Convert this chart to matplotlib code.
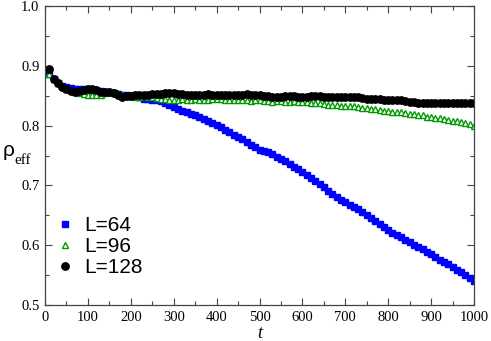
import numpy as np
import matplotlib
matplotlib.use('Agg')
import matplotlib.pyplot as plt

# time steps (every 10 up to 1000)
t = np.arange(10, 1001, 10)

rho_L64 = [
    0.887, 0.878, 0.872, 0.867, 0.864, 0.863, 0.862, 0.862, 0.861, 0.861,
    0.860, 0.859, 0.858, 0.857, 0.856, 0.855, 0.853, 0.852, 0.851, 0.850,
    0.849, 0.847, 0.845, 0.844, 0.843, 0.842, 0.841, 0.838, 0.834, 0.831,
    0.828, 0.825, 0.823, 0.820, 0.817, 0.814, 0.811, 0.808, 0.805, 0.801,
    0.797, 0.793, 0.789, 0.785, 0.781, 0.777, 0.773, 0.768, 0.764, 0.760,
    0.758, 0.756, 0.752, 0.748, 0.744, 0.740, 0.736, 0.731, 0.727, 0.722,
    0.717, 0.712, 0.707, 0.702, 0.697, 0.691, 0.685, 0.680, 0.676, 0.672,
    0.668, 0.664, 0.660, 0.655, 0.650, 0.645, 0.640, 0.635, 0.630, 0.625,
    0.621, 0.617, 0.613, 0.609, 0.605, 0.601, 0.597, 0.593, 0.589, 0.585,
    0.581, 0.576, 0.572, 0.568, 0.563, 0.559, 0.555, 0.550, 0.545, 0.540,
]

rho_L96 = [
    0.886, 0.878, 0.871, 0.866, 0.862, 0.860, 0.857, 0.855, 0.853, 0.852,
    0.851, 0.851, 0.852, 0.854, 0.856, 0.857, 0.855, 0.852, 0.850, 0.849,
    0.848, 0.848, 0.849, 0.848, 0.847, 0.846, 0.845, 0.844, 0.843, 0.843,
    0.843, 0.844, 0.843, 0.843, 0.844, 0.843, 0.842, 0.843, 0.844, 0.845,
    0.844, 0.843, 0.842, 0.842, 0.843, 0.842, 0.842, 0.841, 0.842, 0.842,
    0.841, 0.841, 0.840, 0.841, 0.841, 0.840, 0.840, 0.841, 0.840, 0.840,
    0.839, 0.838, 0.837, 0.837, 0.836, 0.835, 0.834, 0.834, 0.833, 0.833,
    0.832, 0.832, 0.831, 0.830, 0.829, 0.828, 0.827, 0.826, 0.825, 0.824,
    0.823, 0.823, 0.822, 0.821, 0.820, 0.819, 0.818, 0.817, 0.815, 0.814,
    0.813, 0.812, 0.811, 0.810, 0.808, 0.807, 0.806, 0.804, 0.802, 0.800,
]

rho_L128 = [
    0.894, 0.878, 0.871, 0.865, 0.861, 0.858, 0.857, 0.858, 0.860, 0.862,
    0.861, 0.859, 0.857, 0.856, 0.857, 0.855, 0.851, 0.848, 0.849, 0.850,
    0.851, 0.851, 0.852, 0.852, 0.853, 0.853, 0.853, 0.854, 0.854, 0.854,
    0.853, 0.853, 0.852, 0.852, 0.852, 0.852, 0.852, 0.853, 0.852, 0.852,
    0.851, 0.851, 0.852, 0.852, 0.852, 0.852, 0.853, 0.852, 0.852, 0.851,
    0.850, 0.849, 0.848, 0.848, 0.848, 0.849, 0.849, 0.849, 0.848, 0.848,
    0.848, 0.849, 0.849, 0.849, 0.848, 0.848, 0.848, 0.847, 0.847, 0.847,
    0.847, 0.847, 0.847, 0.846, 0.845, 0.845, 0.844, 0.844, 0.843, 0.843,
    0.843, 0.843, 0.842, 0.841, 0.840, 0.839, 0.838, 0.838, 0.838, 0.838,
    0.838, 0.838, 0.838, 0.838, 0.838, 0.838, 0.838, 0.838, 0.838, 0.838,
]

x_ticks = [0, 100, 200, 300, 400, 500, 600, 700, 800, 900, 1000]
y_ticks = [0.5, 0.6, 0.7, 0.8, 0.9, 1.0]

fig = plt.figure(figsize=(4.91, 3.41), dpi=100)
ax = fig.add_axes([45 / 491, 36 / 341, 429 / 491, 299 / 341])

# plot series (blue first, black on top)
ax.plot(t, rho_L64, ls='none', marker='s', ms=4.3, color='#0000ff',
        mec='#0000ff', label='L=64')
ax.plot(t, rho_L96, ls='none', marker='^', ms=4.8, mfc='white',
        mec='#009900', mew=1.0, label='L=96')
ax.plot(t, rho_L128, ls='none', marker='o', ms=5.3, color='black',
        label='L=128')

ax.set_xlim(0, 1000)
ax.set_ylim(0.5, 1.0)
ax.set_xticks(x_ticks)
ax.set_yticks(y_ticks)
ax.set_xticks(np.arange(50, 1000, 100), minor=True)
ax.set_yticks(np.arange(0.55, 1.0, 0.1), minor=True)
ax.set_yticklabels(['%.1f' % v for v in y_ticks])

ax.tick_params(which='both', direction='in', top=True, right=True,
               color='#444444', width=0.8)
ax.tick_params(which='major', length=5, pad=4,
               labelsize=10.5, labelfontfamily='Liberation Serif')
ax.tick_params(which='minor', length=3)
for s in ax.spines.values():
    s.set_linewidth(0.9)
    s.set_color('#444444')

# axis labels
ax.set_xlabel('t', fontsize=13, family='Liberation Serif', style='italic',
              labelpad=1)
fig.text(3 / 491, 1 - 150 / 341, '\u03c1', fontsize=15, family='Liberation Sans',
         va='center', ha='left')
fig.text(14 / 491, 1 - 160 / 341, 'eff', fontsize=11, family='Liberation Serif',
         va='center', ha='left')

leg = ax.legend(loc='upper left', bbox_to_anchor=(0.005, 0.325), frameon=False,
                prop={'family': 'Liberation Sans', 'size': 15},
                handlelength=0.95, handletextpad=0.45, labelspacing=0.1,
                numpoints=1, borderaxespad=0)

fig.savefig('out.png', dpi=100)
